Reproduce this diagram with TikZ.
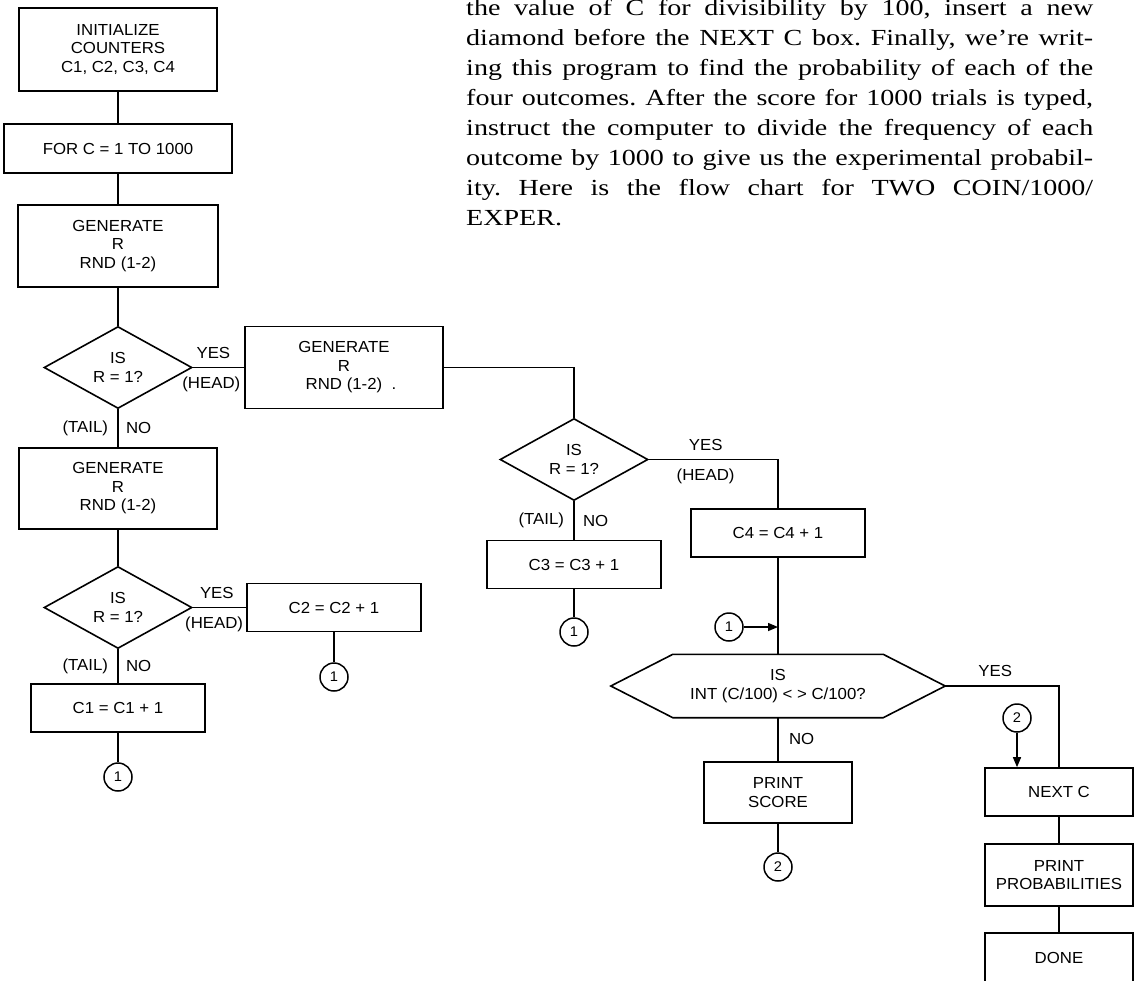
\documentclass[tikz,border=0pt]{standalone}
\usepackage{fontspec}
\setmainfont{Liberation Sans}[FakeStretch=1.05]
\newfontfamily\bookfont{Liberation Serif}[FakeStretch=1.22]
\usetikzlibrary{shapes.geometric,arrows.meta}

% body text settings and one justified line of it
\newcommand\bookstyle{\bookfont\fontsize{23}{30}\selectfont\frenchspacing
  \spaceskip=.3em plus 1em minus .05em\relax}
\newcommand\textrow[1]{\leavevmode\hbox to 627pt{#1}\par}

\tikzset{
  box/.style={draw, line width=1.6pt, minimum width=174pt, minimum height=48pt,
    align=center, inner sep=2pt},
  decision/.style={draw, diamond, line width=1.6pt, minimum width=148pt,
    minimum height=82pt, align=center, inner sep=0pt},
  hexbox/.style={minimum width=334pt, minimum height=63pt, align=center, inner sep=0pt},
  outline/.style={line width=1.6pt, line join=miter},
  onpage/.style={draw, circle, line width=1.5pt, minimum size=28pt, inner sep=0pt,
    font=\fontsize{14}{14}\selectfont},
  flow/.style={line width=1.4pt},
  tip/.style={-{Triangle[length=10pt,width=8pt]}},
}

\begin{document}
\begin{tikzpicture}[x=1pt, y=-1pt, every node/.style={font=\fontsize{16}{18.5}\selectfont}]
\useasboundingbox (0,0) rectangle (1139,980);

% running text beside the chart
\node[anchor=north west, inner sep=0pt, text width=627pt, align=left] (para) at (466,-1) {%
  \bookstyle
  \textrow{the value of C for divisibility by 100, insert a new}
  \textrow{diamond before the NEXT C box. Finally, we’re writ-}
  \textrow{ing this program to find the probability of each of the}
  \textrow{four outcomes. After the score for 1000 trials is typed,}
  \textrow{instruct the computer to divide the frequency of each}
  \textrow{outcome by 1000 to give us the experimental probabil-}
  \textrow{ity. Here is the flow chart for TWO COIN/1000/}
  \leavevmode\hbox{EXPER.}\par};

% first coin
\node[box, minimum width=198pt, minimum height=83pt] (init) at (118,49.5) {INITIALIZE\\COUNTERS\\C1, C2, C3, C4};
\node[box, minimum width=228pt, minimum height=49pt] (loop) at (118,148.5) {FOR C = 1 TO 1000};
\node[box, minimum width=200pt, minimum height=82pt] (genA) at (118,246) {GENERATE\\R\\RND (1-2)};
\node[decision] (testA) at (118,367.5) {IS\\R = 1?};
\node[box, minimum width=198pt, minimum height=82pt] (genB) at (344,367.5) {GENERATE\\R\\RND (1-2)\rlap{\ \ .}};

% second coin after a tail
\node[box, minimum width=198pt, minimum height=81pt] (genC) at (118,488.5) {GENERATE\\R\\RND (1-2)};
\node[decision] (testC) at (118,607.5) {IS\\R = 1?};
\node[box] (cTwo) at (334,607.5) {C2 = C2 + 1};
\node[onpage] (onA) at (334,677) {1};
\node[box] (cOne) at (118,708) {C1 = C1 + 1};
\node[onpage] (onB) at (118,777) {1};

% second coin after a head
\node[decision] (testB) at (574,459.5) {IS\\R = 1?};
\node[box] (cThree) at (574,564.5) {C3 = C3 + 1};
\node[onpage] (onC) at (574,632) {1};
\node[box] (cFour) at (778,533) {C4 = C4 + 1};
\node[onpage] (onD) at (729,627) {1};

% score every 100 trials
\node[hexbox] (check) at (778,686) {IS\\INT (C/100) < > C/100?};
\draw[outline] ([xshift=62pt]check.north west) -- ([xshift=-62pt]check.north east)
  -- (check.east) -- ([xshift=-62pt]check.south east)
  -- ([xshift=62pt]check.south west) -- (check.west) -- cycle;
\node[box, minimum width=148pt, minimum height=61pt] (score) at (778,792.5) {PRINT\\SCORE};
\node[onpage] (onE) at (778,867) {2};

% end of loop
\node[onpage] (onF) at (1017,718) {2};
\node[box, minimum width=148pt] (next) at (1059,792) {NEXT C};
\node[box, minimum width=148pt, minimum height=62pt] (prob) at (1059,875) {PRINT\\PROBABILITIES};
\node[box, minimum width=148pt, minimum height=50pt] (done) at (1059,958) {DONE};

% connectors
\draw[flow] (init) -- (loop);
\draw[flow] (loop) -- (genA);
\draw[flow] (genA) -- (testA);
\draw[flow] (testA) -- node[pos=0.4, above=5pt]{YES} node[pos=0.36, below=5pt]{(HEAD)} (genB);
\draw[flow] (testA) -- node[left=6pt]{(TAIL)} node[right=4pt]{NO} (genC);
\draw[flow] (genC) -- (testC);
\draw[flow] (testC) -- node[pos=0.45, above=5pt]{YES} node[pos=0.4, below=5pt]{(HEAD)} (cTwo);
\draw[flow] (testC) -- node[left=6pt]{(TAIL)} node[right=4pt]{NO} (cOne);
\draw[flow] (cTwo) -- (onA);
\draw[flow] (cOne) -- (onB);

\draw[flow] (genB.east) -| (testB.north);
\draw[flow] (testB.east) -| node[pos=0.22, above=5pt]{YES} node[pos=0.22, below=5pt]{(HEAD)} (cFour.north);
\draw[flow] (testB) -- node[left=6pt]{(TAIL)} node[right=5pt]{NO} (cThree);
\draw[flow] (cThree) -- (onC);
\draw[flow] (cFour) -- (check.north);
\draw[flow, tip] (onD) -- (onD -| check.north);

\draw[flow] (check.south) -- node[right=7pt]{NO} (score);
\draw[flow] (score) -- (onE);
\draw[flow] (check.east) -| node[pos=0.22, above=5pt]{YES} (next.north);
\draw[flow, tip] (onF) -- (onF |- next.north);
\draw[flow] (next) -- (prob);
\draw[flow] (prob) -- (done);
\end{tikzpicture}
\end{document}
